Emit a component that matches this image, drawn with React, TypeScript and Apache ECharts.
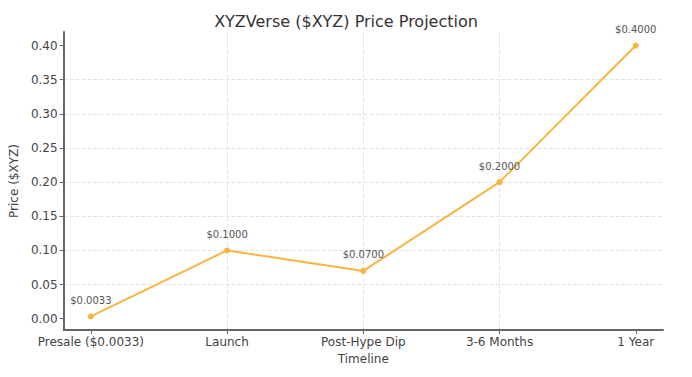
import React, { useEffect, useRef } from "react";
import * as echarts from "echarts";

const categories = ["Presale ($0.0033)", "Launch", "Post-Hype Dip", "3-6 Months", "1 Year"];
const prices = [0.0033, 0.1, 0.07, 0.2, 0.4];
const yTicks = [0, 0.05, 0.1, 0.15, 0.2, 0.25, 0.3, 0.35, 0.4];

const FONT = "DejaVu Sans";

export default function App() {
  const ref = useRef<HTMLDivElement>(null);
  useEffect(() => {
    if (!ref.current) return;
    const chart = echarts.init(ref.current, null, { renderer: "svg" });
    const n = categories.length;
    const xPad = (n - 1) * 0.05;
    const yMinD = Math.min(...prices);
    const yMaxD = Math.max(...prices);
    const yPad = (yMaxD - yMinD) * 0.05;
    chart.setOption({
      animation: false,
      backgroundColor: "#ffffff",
      textStyle: { fontFamily: FONT },
      title: {
        text: "XYZVerse ($XYZ) Price Projection",
        left: "center",
        top: 8,
        textStyle: { fontFamily: FONT, fontSize: 16, fontWeight: "normal", color: "#333" },
      },
      grid: { left: 63, right: 29, top: 32, bottom: 47 },
      xAxis: {
        type: "value",
        min: -xPad,
        max: n - 1 + xPad,
        name: "Timeline",
        nameLocation: "middle",
        nameGap: 20,
        nameTextStyle: { fontFamily: FONT, fontSize: 12, color: "#444" },
        axisLine: { show: true, onZero: false, lineStyle: { color: "#666", width: 2 } },
        axisTick: { show: true, customValues: categories.map((_, i) => i), length: 4, lineStyle: { color: "#666" } },
        axisLabel: {
          customValues: categories.map((_, i) => i),
          formatter: (v: number) => categories[Math.round(v)] ?? "",
          fontFamily: FONT,
          fontSize: 12,
          color: "#444",
          margin: 6,
        },
        splitLine: { show: true, showMinLine: false, showMaxLine: false, lineStyle: { color: "#e3e3e3", type: "dashed", width: 1 } },
      },
      yAxis: {
        type: "value",
        min: yMinD - yPad,
        max: yMaxD + yPad,
        splitNumber: 9,
        name: "Price ($XYZ)",
        nameLocation: "middle",
        nameGap: 38,
        nameTextStyle: { fontFamily: FONT, fontSize: 12, color: "#444" },
        axisLine: { show: true, onZero: false, lineStyle: { color: "#666", width: 2 } },
        axisTick: { show: true, customValues: yTicks, length: 4, lineStyle: { color: "#666" } },
        axisLabel: {
          customValues: yTicks,
          formatter: (v: number) => v.toFixed(2),
          fontFamily: FONT,
          fontSize: 12,
          color: "#444",
          margin: 6,
        },
        splitLine: { show: true, showMinLine: false, showMaxLine: false, lineStyle: { color: "#e3e3e3", type: "dashed", width: 1 } },
      },
      series: [
        {
          type: "line",
          data: prices.map((p, i) => [i, p]),
          symbol: "circle",
          symbolSize: 6,
          lineStyle: { color: "#f5b642", width: 2 },
          itemStyle: { color: "#f5b642" },
          label: {
            show: true,
            position: "top",
            distance: 8,
            formatter: (p: any) => "$" + p.value[1].toFixed(4),
            fontFamily: FONT,
            fontSize: 10,
            color: "#555",
          },
        },
      ],
    });
    return () => chart.dispose();
  }, []);
  return <div ref={ref} style={{ width: 692, height: 377, margin: -8 }} />;
}
